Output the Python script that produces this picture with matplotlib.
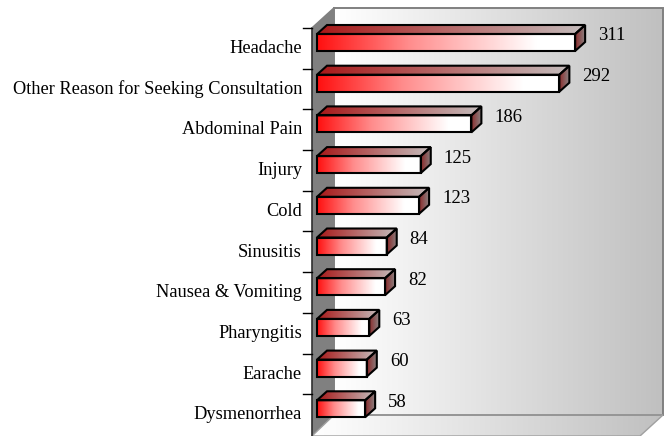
import numpy as np
from matplotlib import pyplot as plt
from matplotlib.colors import LinearSegmentedColormap
from matplotlib.patches import Polygon

categories = ["Headache", "Other Reason for Seeking Consultation", "Abdominal Pain", "Injury", "Cold",
              "Sinusitis", "Nausea & Vomiting", "Pharyngitis", "Earache", "Dysmenorrhea"]
values = [311, 292, 186, 125, 123, 84, 82, 63, 60, 58]

plt.rcParams['font.family'] = ['Liberation Serif', 'DejaVu Serif']

# pixel scale of the chart: 0.83 px per case, 40.7 px per category
sx = 0.83
sy = 40.7
x0 = 317
y0 = 42.5
dx = 10 / sx      # 3d depth in data units
dy = 9 / sy
bar_h = 17 / sy

fig = plt.figure(figsize=(6.65, 4.36), dpi=100)
ax = fig.add_axes([0, 0, 1, 1])
ax.axis('off')


def gradient(ax, pts, colors, vertical=False, zorder=1):
    # fills a polygon with a linear gradient through a clipped image
    cmap = LinearSegmentedColormap.from_list('g', colors)
    pts = np.array(pts)
    g = np.linspace(0, 1, 128).reshape(1, -1)
    if vertical:
        g = g.T
    im = ax.imshow(g, cmap=cmap, aspect='auto', zorder=zorder, interpolation='bilinear',
                   extent=(pts[:, 0].min(), pts[:, 0].max(), pts[:, 1].max(), pts[:, 1].min()))
    clip = Polygon(pts, closed=True, transform=ax.transData, fc='none', ec='none')
    ax.add_patch(clip)
    im.set_clip_path(clip)


def px(x, y):
    # figure pixel to data, only used for the walls of the 3d box
    return ((x - x0) / sx, (y - y0) / sy)


wall_back = [px(334, 8), px(663, 8), px(663, 415), px(334, 415)]
wall_left = [px(312, 28), px(334, 8), px(334, 415), px(312, 436)]
wall_floor = [px(312, 436), px(334, 415), px(663, 415), px(640, 436)]

gradient(ax, wall_back, ['#ffffff', '#c0c0c0'])
gradient(ax, wall_floor, ['#ffffff', '#c0c0c0'])
ax.add_patch(Polygon(wall_left, closed=True, fc='#808080', ec='none', zorder=1.5))
ax.add_patch(Polygon(wall_back, closed=True, fc='none', ec='#808080', lw=1.4, zorder=1.6))
ax.add_patch(Polygon(wall_floor, closed=True, fc='none', ec='#a0a0a0', lw=1.0, zorder=1.6))
ax.plot(*zip(px(312, 28), px(312, 436)), color='#303030', lw=1.2, zorder=1.7)
ax.plot(*zip(px(312, 28), px(334, 8)), color='#808080', lw=1.2, zorder=1.7)

tick_shift = -14.5 / sy
for i, name in enumerate(categories):
    v = values[i]
    top = i - bar_h / 2
    bot = i + bar_h / 2
    front = [(0, top), (v, top), (v, bot), (0, bot)]
    upper = [(0, top), (dx, top - dy), (v + dx, top - dy), (v, top)]
    side = [(v, top), (v + dx, top - dy), (v + dx, bot - dy), (v, bot)]
    gradient(ax, upper, ['#a81818', '#c4bcbc'], zorder=3)
    gradient(ax, side, ['#8c2a2a', '#8a8080'], zorder=3)
    gradient(ax, front, [(0, '#ff1010'), (0.35, '#ff8c8c'), (0.85, '#ffffff'), (1, '#ffffff')], zorder=3)
    for p in (upper, side, front):
        ax.add_patch(Polygon(p, closed=True, fc='none', ec='black', lw=1.5, joinstyle='miter', zorder=4))

    ax.text(v + 23 / sx, i - 6.5 / sy, str(v), ha='left', va='center', fontsize=13.5, color='black', zorder=5)
    ax.text(-15 / sx, i + 6 / sy, name, ha='right', va='center', fontsize=13.2, color='black', zorder=5)
    ty = i + tick_shift
    ax.plot([-14 / sx, -5 / sx], [ty, ty], color='black', lw=1, zorder=2)

ax.set_xlim(-x0 / sx, (665 - x0) / sx)
ax.set_ylim((436 - y0) / sy, -y0 / sy)

fig.savefig('out.png', dpi=100)
